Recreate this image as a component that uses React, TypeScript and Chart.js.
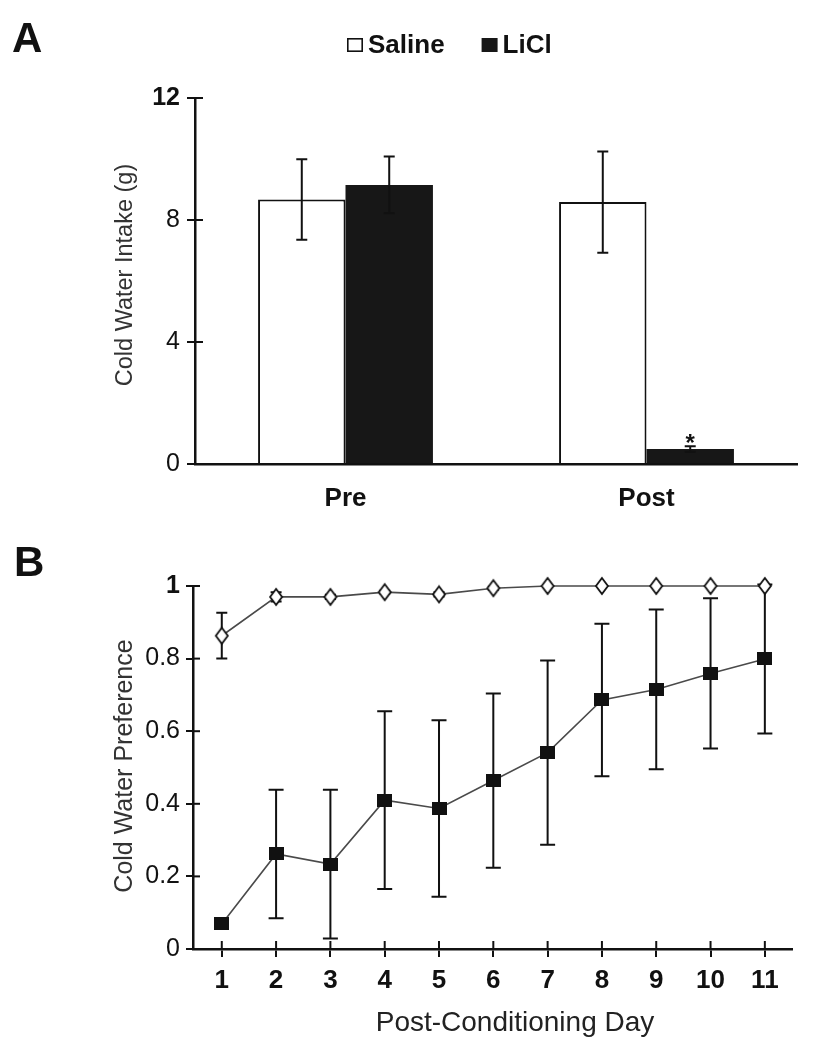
import React, { useEffect, useRef } from 'react';
import { Chart, registerables } from 'chart.js';

Chart.register(...registerables);

// ---------- Panel A data ----------
const groups = ['Pre', 'Post'];
const seriesNames = ['Saline', 'LiCl'];
const salineIntake = [8.67, 8.59];
const salineIntakeErr = [1.32, 1.66];
const liclIntake = [9.15, 0.49];
const liclIntakeErr = [0.93, 0.09];
const liclSignificant = [false, true];
const intakeTicks = [0, 4, 8, 12];

// ---------- Panel B data ----------
const days = [1, 2, 3, 4, 5, 6, 7, 8, 9, 10, 11];
const salinePref = [0.863, 0.97, 0.97, 0.983, 0.977, 0.994, 1.0, 1.0, 1.0, 1.0, 1.0];
const salinePrefErr = [0.063, 0.013, 0.006, 0.004, 0.006, 0.004, 0, 0, 0, 0, 0];
const liclPref = [0.069, 0.262, 0.234, 0.41, 0.387, 0.464, 0.541, 0.686, 0.715, 0.759, 0.799];
const liclPrefErr = [0, 0.177, 0.205, 0.245, 0.243, 0.24, 0.254, 0.21, 0.22, 0.207, 0.205];
const prefTicks = [0, 0.2, 0.4, 0.6, 0.8, 1];

const FONT = '"Liberation Sans", Arial, Helvetica, sans-serif';
const INK = '#111111';

function makeDiamond() {
  const c = document.createElement('canvas');
  c.width = 16;
  c.height = 20;
  const g = c.getContext('2d')!;
  g.beginPath();
  g.moveTo(8, 2);
  g.lineTo(14, 10);
  g.lineTo(8, 18);
  g.lineTo(2, 10);
  g.closePath();
  g.fillStyle = '#ffffff';
  g.fill();
  g.lineWidth = 1.8;
  g.strokeStyle = INK;
  g.stroke();
  return c;
}

function makeSquare() {
  const c = document.createElement('canvas');
  c.width = 15;
  c.height = 13;
  const g = c.getContext('2d')!;
  g.fillStyle = INK;
  g.fillRect(0, 0, 15, 13);
  return c;
}

function drawInnerTicks(chart: any, xLen: number, yLen: number) {
  const ctx = chart.ctx;
  const { left, bottom } = chart.chartArea;
  ctx.save();
  ctx.strokeStyle = INK;
  ctx.lineWidth = 2;
  if (xLen > 0) {
    chart.scales.x.ticks.forEach((t: any) => {
      const px = chart.scales.x.getPixelForValue(t.value);
      ctx.beginPath();
      ctx.moveTo(px, bottom);
      ctx.lineTo(px, bottom - xLen);
      ctx.stroke();
    });
  }
  chart.scales.y.ticks.forEach((t: any) => {
    const py = chart.scales.y.getPixelForValue(t.value);
    ctx.beginPath();
    ctx.moveTo(left, py);
    ctx.lineTo(left + yLen, py);
    ctx.stroke();
  });
  ctx.restore();
}

function PanelA() {
  const ref = useRef<HTMLCanvasElement>(null);
  useEffect(() => {
    const errs = [salineIntakeErr, liclIntakeErr];
    const errPlugin = {
      id: 'errA',
      afterDatasetsDraw(chart: any) {
        const ctx = chart.ctx;
        const y = chart.scales.y;
        ctx.save();
        ctx.strokeStyle = INK;
        ctx.lineWidth = 2;
        chart.data.datasets.forEach((ds: any, i: number) => {
          const meta = chart.getDatasetMeta(i);
          meta.data.forEach((el: any, j: number) => {
            const v = ds.data[j];
            const e = errs[i][j];
            const yt = y.getPixelForValue(v + e);
            const yb = y.getPixelForValue(v - e);
            ctx.beginPath();
            ctx.moveTo(el.x, yt);
            ctx.lineTo(el.x, yb);
            ctx.moveTo(el.x - 5.5, yt);
            ctx.lineTo(el.x + 5.5, yt);
            ctx.moveTo(el.x - 5.5, yb);
            ctx.lineTo(el.x + 5.5, yb);
            ctx.stroke();
            if (i === 1 && liclSignificant[j]) {
              ctx.fillStyle = INK;
              ctx.font = `bold 24px ${FONT}`;
              ctx.textAlign = 'center';
              ctx.textBaseline = 'alphabetic';
              ctx.fillText('*', el.x, yt + 5);
            }
          });
        });
        ctx.restore();
      },
    };
    const decoPlugin = {
      id: 'decoA',
      afterDraw(chart: any) {
        drawInnerTicks(chart, 0, 8);
        const ctx = chart.ctx;
        ctx.save();
        // panel letter
        ctx.fillStyle = INK;
        ctx.font = `bold 42px ${FONT}`;
        ctx.textAlign = 'left';
        ctx.textBaseline = 'alphabetic';
        ctx.fillText('A', 12, 52);
        // legend
        ctx.font = `bold 26px ${FONT}`;
        let x = 347;
        chart.data.datasets.forEach((ds: any, i: number) => {
          ctx.fillStyle = ds.backgroundColor;
          ctx.fillRect(x, 38, 16, 14);
          if (i === 0) {
            ctx.strokeStyle = INK;
            ctx.lineWidth = 1.6;
            ctx.strokeRect(x + 0.8, 38.8, 14.4, 12.4);
          }
          x += 21;
          ctx.fillStyle = INK;
          ctx.fillText(ds.label, x, 53);
          x += ctx.measureText(ds.label).width + 37;
        });
        // y title
        ctx.translate(126, 275);
        ctx.rotate(-Math.PI / 2);
        ctx.font = `23.5px ${FONT}`;
        ctx.fillStyle = '#333333';
        ctx.textAlign = 'center';
        ctx.textBaseline = 'middle';
        ctx.fillText('Cold Water Intake (g)', 0, 0);
        ctx.restore();
      },
    };
    const chart = new Chart(ref.current!, {
      type: 'bar',
      data: {
        labels: groups,
        datasets: [
          {
            label: seriesNames[0],
            data: salineIntake,
            backgroundColor: '#ffffff',
            borderColor: INK,
            borderWidth: 2,
            categoryPercentage: 0.581,
            barPercentage: 1,
          },
          {
            label: seriesNames[1],
            data: liclIntake,
            backgroundColor: '#171717',
            borderColor: '#171717',
            borderWidth: 0,
            categoryPercentage: 0.581,
            barPercentage: 1,
          },
        ],
      },
      options: {
        responsive: false,
        animation: false,
        devicePixelRatio: 1,
        layout: { padding: { left: 0, right: 20, top: 98, bottom: 0 } },
        plugins: { legend: { display: false }, tooltip: { enabled: false } },
        scales: {
          x: {
            type: 'category',
            offset: true,
            grid: { display: false, drawTicks: false },
            border: { display: true, color: INK, width: 2.5 },
            ticks: { font: { family: FONT, size: 26, weight: 'bold' }, color: INK, padding: 19 },
            afterFit: (s: any) => {
              s.height = 66;
            },
          },
          y: {
            min: 0,
            max: 12,
            afterBuildTicks: (s: any) => {
              s.ticks = intakeTicks.map((v) => ({ value: v }));
            },
            grid: { drawOnChartArea: false, drawTicks: true, tickLength: 8, color: INK, lineWidth: 2 },
            border: { display: true, color: INK, width: 2.5 },
            ticks: {
              font: (c: any) => ({ family: FONT, size: 25, weight: c.tick && c.tick.value === 12 ? 'bold' : 'normal' }),
              color: INK,
              padding: 7,
              callback: (v: any) => String(v),
            },
            afterFit: (s: any) => {
              s.width = 195;
            },
          },
        },
      } as any,
      plugins: [errPlugin, decoPlugin],
    });
    return () => chart.destroy();
  }, []);
  return (
    <canvas
      ref={ref}
      width={817}
      height={530}
      style={{ position: 'absolute', left: 0, top: 0, width: 817, height: 530 }}
    />
  );
}

function PanelB() {
  const ref = useRef<HTMLCanvasElement>(null);
  useEffect(() => {
    const errs = [salinePrefErr, liclPrefErr];
    const capHalf = [5.5, 7.5];
    const errPlugin = {
      id: 'errB',
      beforeDatasetsDraw(chart: any) {
        const ctx = chart.ctx;
        const y = chart.scales.y;
        ctx.save();
        ctx.strokeStyle = INK;
        ctx.lineWidth = 2;
        chart.data.datasets.forEach((ds: any, i: number) => {
          const meta = chart.getDatasetMeta(i);
          meta.data.forEach((el: any, j: number) => {
            const v = ds.data[j].y;
            const e = errs[i][j];
            if (!e) return;
            const yt = y.getPixelForValue(v + e);
            const yb = y.getPixelForValue(v - e);
            const h = capHalf[i];
            ctx.beginPath();
            ctx.moveTo(el.x, yt);
            ctx.lineTo(el.x, yb);
            ctx.moveTo(el.x - h, yt);
            ctx.lineTo(el.x + h, yt);
            ctx.moveTo(el.x - h, yb);
            ctx.lineTo(el.x + h, yb);
            ctx.stroke();
          });
        });
        ctx.restore();
      },
    };
    const decoPlugin = {
      id: 'decoB',
      afterDraw(chart: any) {
        drawInnerTicks(chart, 8, 7);
        const ctx = chart.ctx;
        ctx.save();
        ctx.fillStyle = INK;
        ctx.font = `bold 42px ${FONT}`;
        ctx.textAlign = 'left';
        ctx.textBaseline = 'alphabetic';
        ctx.fillText('B', 14, 46);
        ctx.font = `28px ${FONT}`;
        ctx.fillStyle = '#222222';
        ctx.textAlign = 'center';
        ctx.fillText('Post-Conditioning Day', 515, 501);
        ctx.translate(125, 236);
        ctx.rotate(-Math.PI / 2);
        ctx.font = `25px ${FONT}`;
        ctx.fillStyle = '#333333';
        ctx.textBaseline = 'middle';
        ctx.fillText('Cold Water Preference', 0, 0);
        ctx.restore();
      },
    };
    const diamond = makeDiamond();
    const square = makeSquare();
    const chart = new Chart(ref.current!, {
      type: 'line',
      data: {
        datasets: [
          {
            label: seriesNames[0],
            data: days.map((d, i) => ({ x: d, y: salinePref[i] })),
            borderColor: '#4a4a4a',
            borderWidth: 1.6,
            pointStyle: diamond,
            pointRadius: 7,
            fill: false,
            tension: 0,
            clip: 14,
          },
          {
            label: seriesNames[1],
            data: days.map((d, i) => ({ x: d, y: liclPref[i] })),
            borderColor: '#4a4a4a',
            borderWidth: 1.6,
            pointStyle: square,
            pointRadius: 7,
            fill: false,
            tension: 0,
            clip: 14,
          },
        ],
      },
      options: {
        responsive: false,
        animation: false,
        devicePixelRatio: 1,
        layout: { padding: { left: 0, right: 25, top: 56, bottom: 0 } },
        plugins: { legend: { display: false }, tooltip: { enabled: false } },
        scales: {
          x: {
            type: 'linear',
            min: 0.47,
            max: 11.5,
            afterBuildTicks: (s: any) => {
              s.ticks = days.map((v) => ({ value: v }));
            },
            grid: { drawOnChartArea: false, drawTicks: true, tickLength: 8, color: INK, lineWidth: 2 },
            border: { display: true, color: INK, width: 2.5 },
            ticks: {
              font: { family: FONT, size: 26, weight: 'bold' },
              color: INK,
              padding: 8,
              callback: (v: any) => String(v),
            },
            afterFit: (s: any) => {
              s.height = 101;
            },
          },
          y: {
            min: 0,
            max: 1,
            afterBuildTicks: (s: any) => {
              s.ticks = prefTicks.map((v) => ({ value: v }));
            },
            grid: { drawOnChartArea: false, drawTicks: true, tickLength: 7, color: INK, lineWidth: 2 },
            border: { display: true, color: INK, width: 2.5 },
            ticks: {
              font: (c: any) => ({ family: FONT, size: 25, weight: c.tick && c.tick.value === 1 ? 'bold' : 'normal' }),
              color: INK,
              padding: 6,
              callback: (v: any) => String(v),
            },
            afterFit: (s: any) => {
              s.width = 193;
            },
          },
        },
      } as any,
      plugins: [errPlugin, decoPlugin],
    });
    return () => chart.destroy();
  }, []);
  return (
    <canvas
      ref={ref}
      width={817}
      height={520}
      style={{ position: 'absolute', left: 0, top: 530, width: 817, height: 520 }}
    />
  );
}

export default function App() {
  return (
    <div style={{ position: 'absolute', left: 0, top: 0, width: 817, height: 1050, background: '#ffffff' }}>
      <PanelA />
      <PanelB />
    </div>
  );
}
